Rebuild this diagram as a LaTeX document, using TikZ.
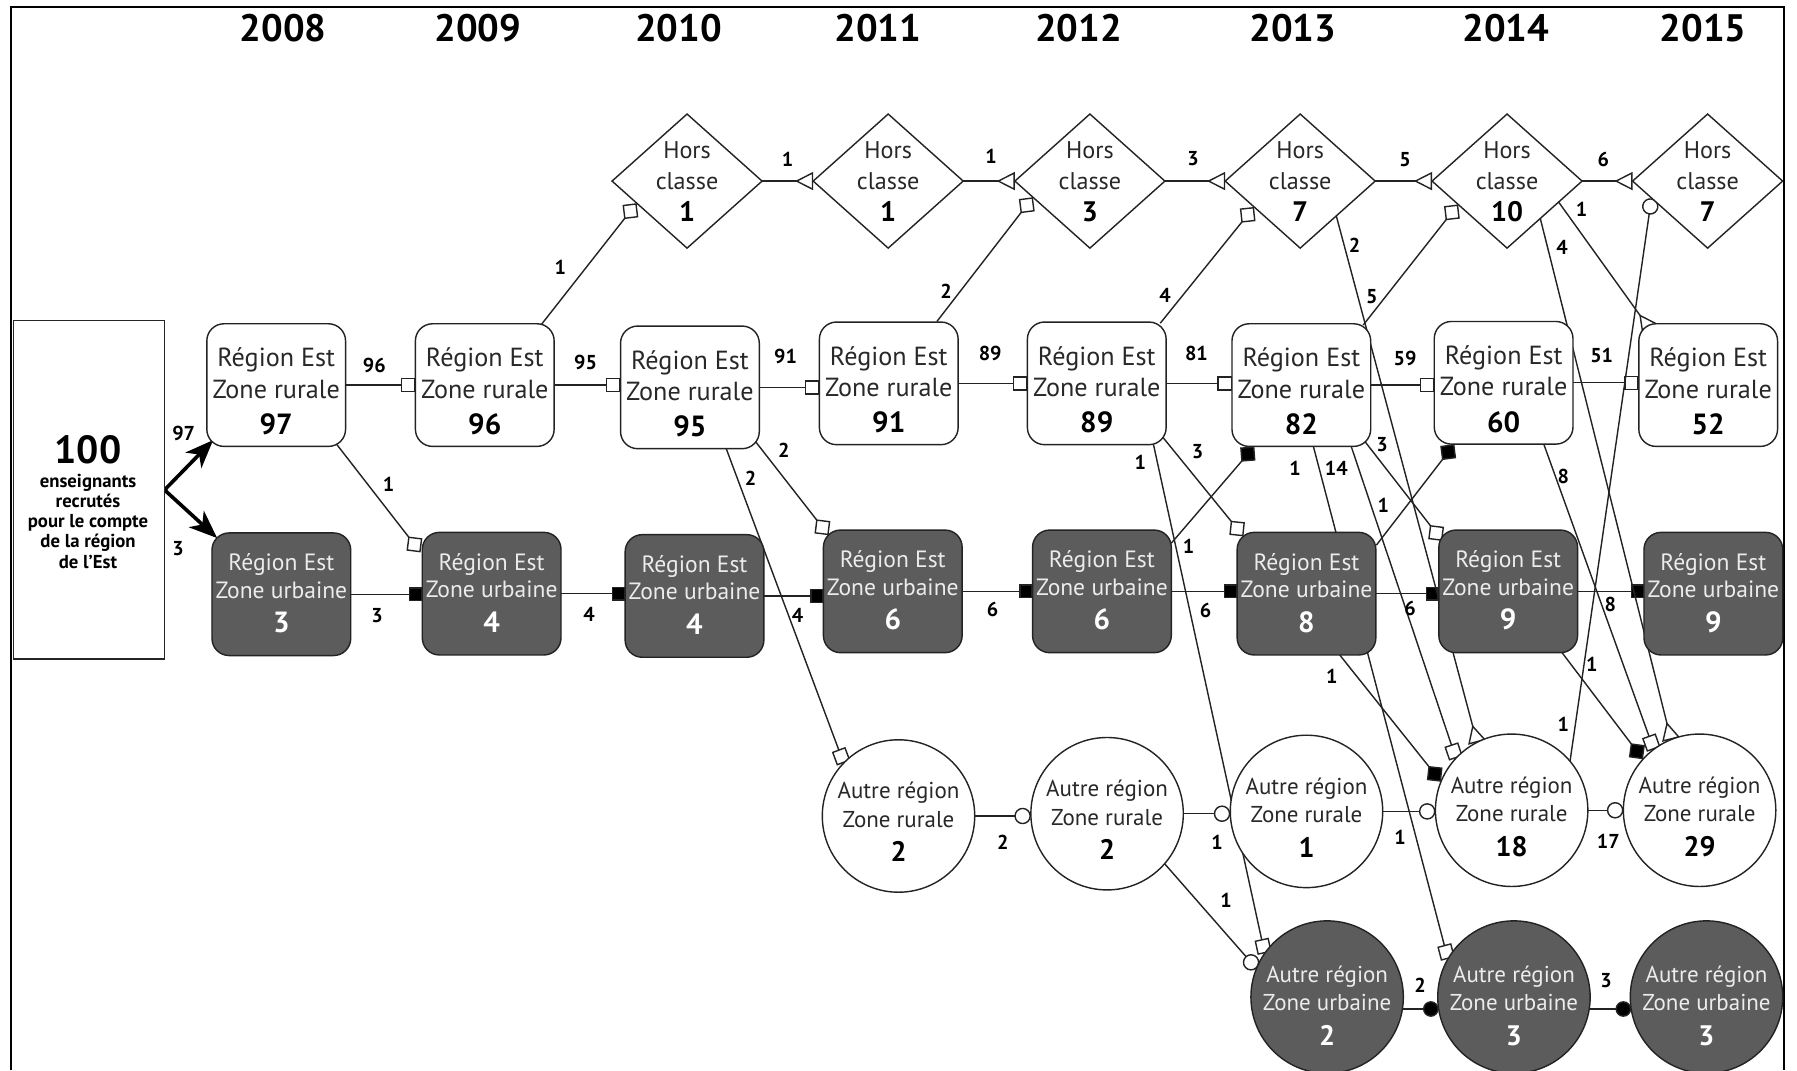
\documentclass[tikz,border=0pt]{standalone}
\usepackage{fontspec}
\setmainfont{PT Sans}
\usetikzlibrary{arrows.meta,shapes.geometric,calc,backgrounds}
\definecolor{linec}{RGB}{35,35,35}
\definecolor{darkfill}{RGB}{92,92,92}
\definecolor{lighttxt}{RGB}{236,236,236}
\definecolor{txt}{RGB}{40,40,40}
\tikzset{
  shapebase/.style={draw=linec, line width=0.7pt, inner sep=0pt, outer sep=0pt},
  rbox/.style={shapebase, fill=white, rectangle, rounded corners=8.5pt, minimum width=68.9pt, minimum height=60.9pt},
  ubox/.style={rbox, fill=darkfill},
  hcbox/.style={shapebase, fill=white, diamond, minimum width=74.5pt, minimum height=66.6pt},
  acirc/.style={shapebase, fill=white, circle, minimum size=75.7pt},
  aucirc/.style={acirc, fill=darkfill},
  ttxt/.style={inner sep=0pt, outer sep=0pt, anchor=base},
  rtxt/.style={ttxt, text=txt, font=\fontsize{13}{15}\selectfont},
  rnum/.style={ttxt, text=black, font=\fontsize{14.5}{16}\selectfont\bfseries},
  utxt/.style={ttxt, text=lighttxt, font=\fontsize{11.7}{14}\selectfont},
  unum/.style={ttxt, text=white, font=\fontsize{14.5}{16}\selectfont\bfseries},
  htxt/.style={ttxt, text=txt, font=\fontsize{12}{14}\selectfont},
  hnum/.style={ttxt, text=black, font=\fontsize{14}{16}\selectfont\bfseries},
  atxt/.style={ttxt, text=txt, font=\fontsize{11.4}{14}\selectfont},
  anum/.style={ttxt, text=black, font=\fontsize{14}{16}\selectfont\bfseries},
  autxt/.style={ttxt, text=lighttxt, font=\fontsize{11.4}{14}\selectfont},
  aunum/.style={ttxt, text=white, font=\fontsize{14}{16}\selectfont\bfseries},
  lab/.style={inner sep=0pt, text=black, font=\fontsize{10}{12}\selectfont\bfseries},
  yearlab/.style={ttxt, text=black, font=\fontsize{19}{22}\selectfont\bfseries},
  con/.style={draw=linec, line width=0.7pt},
  osq/.style={con, -{Square[fill=white, length=7.2pt, width=7.2pt]}},
  fsq/.style={con, -{Square[fill=black, length=6.6pt, width=7pt]}},
  odi/.style={con, -{Turned Square[fill=white, length=10pt, width=10pt]}},
  fdi/.style={con, -{Turned Square[fill=black, length=10pt, width=10pt]}},
  oci/.style={con, -{Circle[fill=white, length=8.2pt]}},
  fci/.style={con, -{Circle[fill=black, length=7.8pt]}},
  otr/.style={con, -{Triangle[fill=white, reversed, length=9pt, width=9pt]}},
  startarr/.style={draw=black, line width=1.8pt, -{Stealth[length=14pt, width=11pt, inset=4pt]}},
}
\newcommand{\Rbox}[3]{%
  \node[rbox] (#1) at (#2) {};
  \node[rtxt] (#1a) at ($(#1)+(0,-16)$) {Région Est};
  \node[rtxt] (#1b) at ($(#1)+(0,11.5)$) {Zone rurale};
  \node[rnum] (#1c) at ($(#1)+(0,43)$) {#3};}
\newcommand{\Ubox}[3]{%
  \node[ubox] (#1) at (#2) {};
  \node[utxt] (#1a) at ($(#1)+(0,-20.5)$) {Région Est};
  \node[utxt] (#1b) at ($(#1)+(0,3.5)$) {Zone urbaine};
  \node[unum] (#1c) at ($(#1)+(0,33.5)$) {#3};}
\newcommand{\Hbox}[3]{%
  \node[hcbox] (#1) at (#2) {};
  \node[htxt] (#1a) at ($(#1)+(0,-20)$) {Hors};
  \node[htxt] (#1b) at ($(#1)+(0,7)$) {classe};
  \node[hnum] (#1c) at ($(#1)+(0,35.5)$) {#3};}
\newcommand{\Acirc}[3]{%
  \node[acirc] (#1) at (#2) {};
  \node[atxt] (#1a) at ($(#1)+(0,-15)$) {Autre région};
  \node[atxt] (#1b) at ($(#1)+(0,10)$) {Zone rurale};
  \node[anum] (#1c) at ($(#1)+(0,40)$) {#3};}
\newcommand{\AUcirc}[3]{%
  \node[aucirc] (#1) at (#2) {};
  \node[autxt] (#1a) at ($(#1)+(0,-12.5)$) {Autre région};
  \node[autxt] (#1b) at ($(#1)+(0,12)$) {Zone urbaine};
  \node[aunum] (#1c) at ($(#1)+(0,42.5)$) {#3};}
\newcommand{\clab}[3]{\node[lab] (#1) at (#2) {#3};}
\begin{document}
\begin{tikzpicture}[x=0.02cm,y=-0.02cm]
\useasboundingbox (0,0) rectangle (1568,934);
\draw[line width=1pt] (9.5,934) -- (9.5,6.5) -- (1557,6.5) -- (1557,934);
% years
\node[yearlab] (Y8) at (247,36) {2008};
\node[yearlab] (Y9) at (417,36) {2009};
\node[yearlab] (Y10) at (592,36) {2010};
\node[yearlab] (Y11) at (766,36) {2011};
\node[yearlab] (Y12) at (941,36) {2012};
\node[yearlab] (Y13) at (1128,36) {2013};
\node[yearlab] (Y14) at (1314,36) {2014};
\node[yearlab] (Y15) at (1486,36) {2015};
% start box
\node[shapebase, draw=black!85, line width=0.8pt, fill=white, rectangle, minimum width=75.1pt, minimum height=168.2pt] (S) at (77.6,427.5) {};
\node[ttxt, font=\fontsize{19.5}{22}\selectfont\bfseries] (S0) at (76.8,404) {100};
\node[ttxt, font=\fontsize{9.3}{11}\selectfont\bfseries] (S1) at (76.8,425) {enseignants};
\node[ttxt, font=\fontsize{9.3}{11}\selectfont\bfseries] (S2) at (76.8,442.5) {recrutés};
\node[ttxt, font=\fontsize{9.3}{11}\selectfont\bfseries] (S3) at (76.8,460) {pour le compte};
\node[ttxt, font=\fontsize{9.3}{11}\selectfont\bfseries] (S4) at (76.8,478) {de la région};
\node[ttxt, font=\fontsize{9.3}{11}\selectfont\bfseries] (S5) at (76.8,496) {de l’Est};
% rural row
\Rbox{R8}{241,336}{97}
\Rbox{R9}{423,336}{96}
\Rbox{R10}{602,338}{95}
\Rbox{R11}{775.5,334.5}{91}
\Rbox{R12}{957,334.5}{89}
\Rbox{R13}{1135.5,336}{82}
\Rbox{R14}{1312,334}{60}
\Rbox{R15}{1490.5,336}{52}
% urban row
\Ubox{U8}{245.5,518.5}{3}
\Ubox{U9}{429,518}{4}
\Ubox{U10}{606,520}{4}
\Ubox{U11}{779,516}{6}
\Ubox{U12}{961.5,516}{6}
\Ubox{U13}{1140,518}{8}
\Ubox{U14}{1316,516}{9}
\Ubox{U15}{1495,518}{9}
% hors classe
\Hbox{H10}{599.5,158}{1}
\Hbox{H11}{775,158}{1}
\Hbox{H12}{951,158}{3}
\Hbox{H13}{1134.5,158}{7}
\Hbox{H14}{1315,158}{10}
\Hbox{H15}{1490,158}{7}
% autre region
\Acirc{A11}{784,712}{2}
\Acirc{A12}{966,710}{2}
\Acirc{A13}{1140,708}{1}
\Acirc{A14}{1319,707}{18}
\Acirc{A15}{1483,707}{29}
\AUcirc{AU13}{1158,870}{2}
\AUcirc{AU14}{1321,870}{3}
\AUcirc{AU15}{1489,870}{3}
% connectors
\begin{pgfonlayer}{background}
\fill[white] (0,0) rectangle (1568,934);
\draw[startarr] (S.east) -- ($(R8)+(-55,48)$);
\draw[startarr] (S.east) -- ($(U8)+(-56,-49)$);
\foreach \a/\b in {R8/R9,R9/R10,R10/R11,R11/R12,R12/R13,R13/R14,R14/R15}
  \draw[osq] (\a.east) -- (\a.east -| \b.west);
\foreach \a/\b in {U8/U9,U9/U10,U10/U11,U11/U12,U12/U13,U13/U14,U14/U15}
  \draw[fsq] (\a.east) -- (\a.east -| \b.west);
\foreach \a/\b in {H10/H11,H11/H12,H12/H13,H13/H14,H14/H15}
  \draw[otr] (\a.east) -- (\b.west);
\foreach \a/\b in {A11/A12,A12/A13,A13/A14,A14/A15}
  \draw[oci] (\a.east) -- (\a.east -| \b.west);
\draw[fci] (AU13.-9) -- (AU14.189);
\draw[fci] (AU14.-9) -- (AU15.189);
\draw[odi] ($(R8)+(53,52)$) -- ($(U9)+(-62,-36)$);
\draw[odi] ($(R10)+(57,47)$) -- ($(U11)+(-56,-49)$);
\draw[odi] ($(R12)+(58,47.5)$) -- ($(U13)+(-55,-50)$);
\draw[odi] ($(R13)+(54.5,48)$) -- ($(U14)+(-57.5,-44)$);
\draw[odi] ($(R9)+(49.5,-53)$) -- ($(H10)+(-44,19.3)$);
\draw[odi] ($(R11)+(42,-54)$) -- ($(H12)+(-49.7,14.1)$);
\draw[odi] ($(R12)+(55.4,-52.5)$) -- ($(H13)+(-40.3,22.6)$);
\draw[odi] ($(R13)+(54,-52.4)$) -- ($(H14)+(-42.7,20.4)$);
\draw[fdi] ($(U12)+(60.5,-42)$) -- ($(R13)+(-41,53.5)$);
\draw[fdi] ($(U13)+(61,-42.4)$) -- ($(R14)+(-43,53.5)$);
\draw[osq] ($(R10)+(31.5,53)$) -- (A11.136);
\draw[osq] ($(R12)+(49.5,53.5)$) -- (AU13.145);
\draw[osq] ($(R13)+(43.5,53.5)$) -- (A14.137);
\draw[osq] ($(R13)+(10.5,53.5)$) -- (AU14.150);
\draw[osq] ($(R14)+(35,53.4)$) -- (A15.127);
\draw[fdi] ($(U13)+(29,53.5)$) -- (A14.158);
\draw[fdi] ($(U14)+(47,53.5)$) -- (A15.138);
\draw[otr] ($(H13)+(31.5,30.4)$) -- (A14.117);
\draw[otr] ($(H14)+(29,32.6)$) -- (A15.112);
\draw[otr] ($(H14)+(45,18.3)$) -- ($(R15)+(-51,-49)$);
\draw[oci] (A14.40) -- ($(H15)+(-49,15)$);
\draw[oci] (A12.-41) -- (AU13.158);
\end{pgfonlayer}
% labels
\clab{L1}{160.3,378}{97}
\clab{L2}{155.3,478.5}{3}
\clab{L3}{326.6,318.5}{96}
\clab{L4}{511,316}{95}
\clab{L5}{685.5,311}{91}
\clab{L6}{864,308}{89}
\clab{L7}{1044,308.3}{81}
\clab{L8}{1226,312.7}{59}
\clab{L9}{1397.6,310}{51}
\clab{L10}{329,536.7}{3}
\clab{L11}{514,536}{4}
\clab{L12}{696,536.7}{4}
\clab{L13}{866,532}{6}
\clab{L14}{1052,532.3}{6}
\clab{L15}{1230.4,530.8}{6}
\clab{L16}{1405,527}{8}
\clab{L17}{687.2,139}{1}
\clab{L18}{864.8,136.7}{1}
\clab{L19}{1041,138.5}{3}
\clab{L20}{1226,139.6}{5}
\clab{L21}{1399,139}{6}
\clab{L22}{339,423}{1}
\clab{L23}{684,393}{2}
\clab{L24}{1045,394}{3}
\clab{L25}{1206,388}{3}
\clab{L26}{489,233}{1}
\clab{L27}{825.6,254.5}{2}
\clab{L28}{1016.6,257.4}{4}
\clab{L29}{1197,259}{5}
\clab{L30}{1037,477}{1}
\clab{L31}{1207,440.7}{1}
\clab{L32}{655,417}{2}
\clab{L33}{995,403}{1}
\clab{L34}{1166,409}{14}
\clab{L35}{1130,409}{1}
\clab{L36}{1162,590.5}{1}
\clab{L37}{1389,580}{1}
\clab{L38}{1182,214}{2}
\clab{L39}{1363,216}{4}
\clab{L40}{1380,183}{1}
\clab{L41}{1364,416}{8}
\clab{L42}{1364,632}{1}
\clab{L43}{875,735.3}{2}
\clab{L44}{1062,735.3}{1}
\clab{L45}{1221.6,730.7}{1}
\clab{L46}{1403.4,734.5}{17}
\clab{L47}{1069.8,785.3}{1}
\clab{L48}{1239,859.5}{2}
\clab{L49}{1401.4,855.2}{3}
\end{tikzpicture}
\end{document}
